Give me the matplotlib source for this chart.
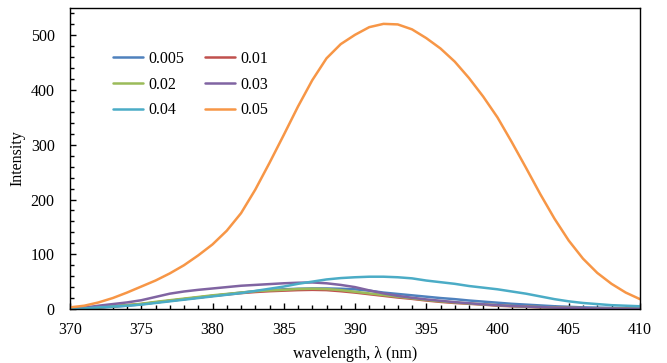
import numpy as np
import matplotlib
matplotlib.use("Agg")
import matplotlib.pyplot as plt
from matplotlib.ticker import MultipleLocator

plt.rcParams['font.family'] = ['Liberation Serif', 'DejaVu Serif']

# wavelength grid (nm), values at 1 nm steps
wl = np.arange(370, 411)

c_0005 = [0, 1, 2.5, 4, 6, 8.5, 12, 15, 18, 21, 24, 27, 30, 32.5, 34.5, 36, 37, 37.5, 37.5, 37, 36,
          33.5, 30, 27.5, 25, 22.5, 20, 18, 15.5, 13.5, 11.5, 9.5, 8, 6.5, 5, 4, 3, 2.5, 2, 1.5, 1]
c_001 = [0, 1.5, 3, 5, 7, 9, 12, 15, 18, 21, 24, 26.5, 29, 31, 32.5, 33.5, 34.5, 35, 34.5, 32.5, 30,
         27, 24, 21, 18.5, 15.5, 13, 11, 9.5, 8, 6, 5, 4, 3, 2.5, 2, 1.5, 1, 1, 0.5, 0.5]
c_002 = [0, 1.5, 3, 5, 7, 9.5, 13, 16, 19, 22, 25, 27.5, 30, 32.5, 34, 35, 36.5, 37, 36.5, 34.5, 31.5,
         28.5, 25.5, 22.5, 19.5, 16.5, 14, 12, 10, 8.5, 7, 5.5, 4.5, 3.5, 2.5, 2, 1.5, 1, 1, 0.5, 0.5]
c_003 = [0, 2.5, 6, 9, 12, 16, 22, 28, 32, 35, 37.5, 40, 42.5, 44, 45.5, 47, 48, 48.5, 47, 44, 40,
         34, 28.5, 24, 20.5, 17.5, 15, 12.5, 10.5, 8.5, 7, 5.5, 4.5, 3.5, 2.5, 2, 1.5, 1, 1, 0.5, 0.5]
c_004 = [0, 1, 3, 4.5, 6, 8, 11, 14, 17, 20, 23, 26, 29, 33, 37, 41, 46, 50, 54, 56.5, 58,
         59, 59, 58, 56, 52, 49, 46, 42, 39, 36, 32, 28, 23, 18, 14, 11, 9, 7, 6, 5]
c_005 = [3, 6, 12, 20, 30, 41, 52, 65, 80, 98, 118, 143, 175, 218, 267, 318, 370, 418, 458, 484, 501,
         515, 521, 520, 511, 495, 476, 452, 422, 388, 350, 305, 258, 210, 165, 125, 92, 66, 46, 30, 18]

labels = ['0.005', '0.01', '0.02', '0.03', '0.04', '0.05']
series = [c_0005, c_001, c_002, c_003, c_004, c_005]
colors = ['#4F81BD', '#C0504D', '#9BBB59', '#8064A2', '#4BACC6', '#F79646']

fig = plt.figure(figsize=(6.67, 3.63), dpi=100)
ax = fig.add_axes([70 / 667, 54 / 363, 570 / 667, 301 / 363])

lines = []
for y, lab, col in zip(series, labels, colors):
    ln, = ax.plot(wl, y, color=col, lw=1.8, label=lab, solid_capstyle='round', solid_joinstyle='round')
    lines.append(ln)

ax.set_xlim(370, 410)
ax.set_ylim(0, 550)
ax.xaxis.set_major_locator(MultipleLocator(5))
ax.xaxis.set_minor_locator(MultipleLocator(1))
ax.yaxis.set_major_locator(MultipleLocator(100))
ax.yaxis.set_minor_locator(MultipleLocator(20))
ax.tick_params(which='both', direction='in', top=False, right=False, labelsize=11.5, width=1)
ax.tick_params(which='major', length=4)
ax.tick_params(which='minor', length=3)
ax.tick_params(axis='x', which='major', pad=9)
ax.tick_params(axis='y', which='major', pad=11)
for s in ax.spines.values():
    s.set_linewidth(1.0)
    s.set_color('black')

ax.set_xlabel('wavelength, λ (nm)', fontsize=11.5, labelpad=6)
ax.set_ylabel('Intensity', fontsize=11.5, labelpad=4)

# legend laid out row-wise as in the reference
order = [0, 2, 4, 1, 3, 5]
ax.legend([lines[i] for i in order], [labels[i] for i in order], ncol=2, frameon=False,
          fontsize=11.5, loc='upper left', bbox_to_anchor=(113 / 667, 1 - 51 / 363),
          bbox_transform=fig.transFigure, borderpad=0, borderaxespad=0,
          handlelength=1.9, handletextpad=0.3, columnspacing=1.3, labelspacing=0.6)

fig.savefig('out.png', dpi=100)
